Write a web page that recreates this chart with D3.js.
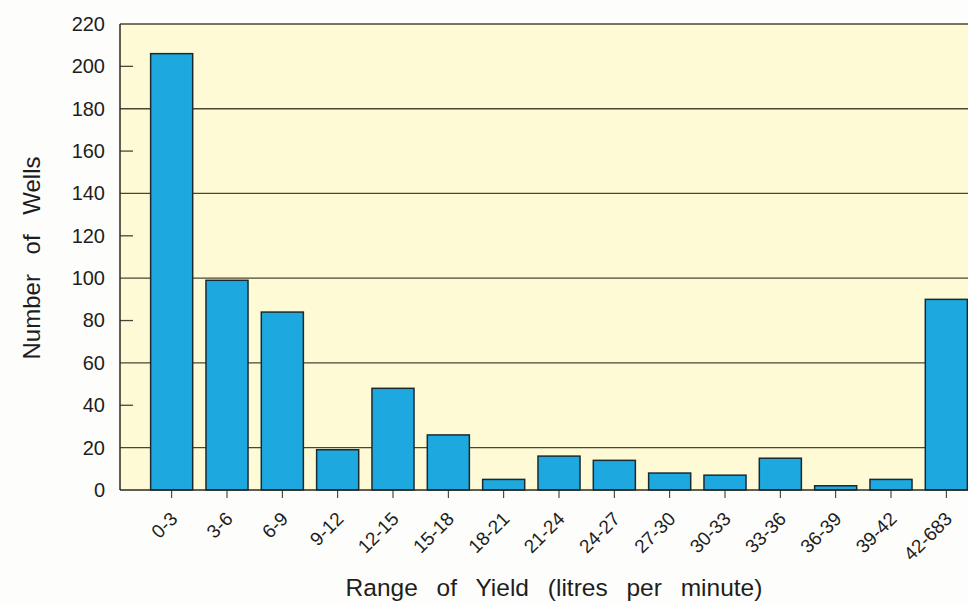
<!DOCTYPE html>
<html lang="en">
<head>
<meta charset="UTF-8">
<title>Number of Wells by Range of Yield</title>
<script src="https://d3js.org/d3.v7.min.js"></script>
<style>
    body { margin: 0; background: #fdfdfb; }
    svg { display: block; font-family: "Liberation Sans", Arial, sans-serif; }
</style>
</head>
<body>
<div id="chart"></div>
<script>
    const yieldRanges = ["0-3", "3-6", "6-9", "9-12", "12-15", "15-18", "18-21", "21-24",
        "24-27", "27-30", "30-33", "33-36", "36-39", "39-42", "42-683"];
    const wellCounts = [206, 99, 84, 19, 48, 26, 5, 16, 14, 8, 7, 15, 2, 5, 90];
    const gridValues = [20, 60, 100, 140, 180, 220];
    const tickValues = [0, 20, 40, 60, 80, 100, 120, 140, 160, 180, 200, 220];

    const width = 968;
    const height = 603;
    const plot = { left: 120, right: 976, top: 24, bottom: 490 };
    const ink = "#1e1e1e";

    const svg = d3.select("#chart")
        .append("svg")
        .attr("width", width)
        .attr("height", height);

    const x = d3.scaleBand()
        .domain(yieldRanges)
        .range([144, 974])
        .paddingInner(0.24)
        .paddingOuter(0.12);

    const y = d3.scaleLinear()
        .domain([0, 220])
        .range([plot.bottom, plot.top]);

    // plot background
    svg.append("rect")
        .attr("x", plot.left)
        .attr("y", plot.top)
        .attr("width", plot.right - plot.left)
        .attr("height", plot.bottom - plot.top)
        .attr("fill", "#fefad5");

    // horizontal grid lines every 40 starting at 20
    svg.append("g")
        .selectAll("line")
        .data(gridValues)
        .join("line")
        .attr("x1", plot.left)
        .attr("x2", plot.right)
        .attr("y1", d => y(d))
        .attr("y2", d => y(d))
        .attr("stroke", "#4a4636")
        .attr("stroke-width", 1.3);

    // bars
    svg.append("g")
        .selectAll("rect")
        .data(yieldRanges)
        .join("rect")
        .attr("x", d => x(d))
        .attr("y", (d, i) => y(wellCounts[i]))
        .attr("width", x.bandwidth())
        .attr("height", (d, i) => y(0) - y(wellCounts[i]))
        .attr("fill", "#1ea8e0")
        .attr("stroke", "#1b2a30")
        .attr("stroke-width", 1.5);

    // y axis: labels only, short inner ticks where there is no grid line
    const yAxis = svg.append("g")
        .attr("transform", `translate(${plot.left},0)`)
        .call(d3.axisLeft(y).tickValues(tickValues).tickSize(0).tickPadding(15));
    yAxis.select(".domain").remove();
    yAxis.selectAll("text")
        .attr("fill", ink)
        .attr("font-size", 20)
        .attr("font-family", "Liberation Sans, Arial, sans-serif");

    svg.append("g")
        .selectAll("line")
        .data(tickValues.filter(v => !gridValues.includes(v) && v > 0))
        .join("line")
        .attr("x1", plot.left)
        .attr("x2", plot.left + 13)
        .attr("y1", d => y(d))
        .attr("y2", d => y(d))
        .attr("stroke", "#4a4636")
        .attr("stroke-width", 1.3);

    svg.append("line")
        .attr("x1", plot.left).attr("x2", plot.left)
        .attr("y1", plot.top).attr("y2", plot.bottom)
        .attr("stroke", "#2a2a22")
        .attr("stroke-width", 1.5);

    // x axis with rotated labels
    const xAxis = svg.append("g")
        .attr("transform", `translate(0,${plot.bottom})`)
        .call(d3.axisBottom(x).tickSize(8).tickSizeOuter(0));
    xAxis.select(".domain")
        .attr("stroke", "#2a2a22")
        .attr("stroke-width", 1.5)
        .attr("d", `M${plot.left},0H${plot.right}`);
    xAxis.selectAll(".tick line").attr("stroke", "#2a2a22");
    xAxis.selectAll("text")
        .attr("fill", ink)
        .attr("font-size", 19)
        .attr("font-family", "Liberation Sans, Arial, sans-serif")
        .attr("text-anchor", "end")
        .attr("y", 0)
        .attr("dy", 0)
        .attr("transform", "translate(7,30) rotate(-45)");

    // axis titles
    svg.append("text")
        .attr("transform", `translate(40,${(plot.top + plot.bottom) / 2 + 1}) rotate(-90)`)
        .attr("text-anchor", "middle")
        .attr("font-size", 24)
        .attr("fill", ink)
        .style("word-spacing", "13px")
        .text("Number of Wells");

    svg.append("text")
        .attr("x", 554)
        .attr("y", 596)
        .attr("text-anchor", "middle")
        .attr("font-size", 24.5)
        .attr("fill", ink)
        .style("word-spacing", "12px")
        .text("Range of Yield (litres per minute)");
</script>
</body>
</html>
